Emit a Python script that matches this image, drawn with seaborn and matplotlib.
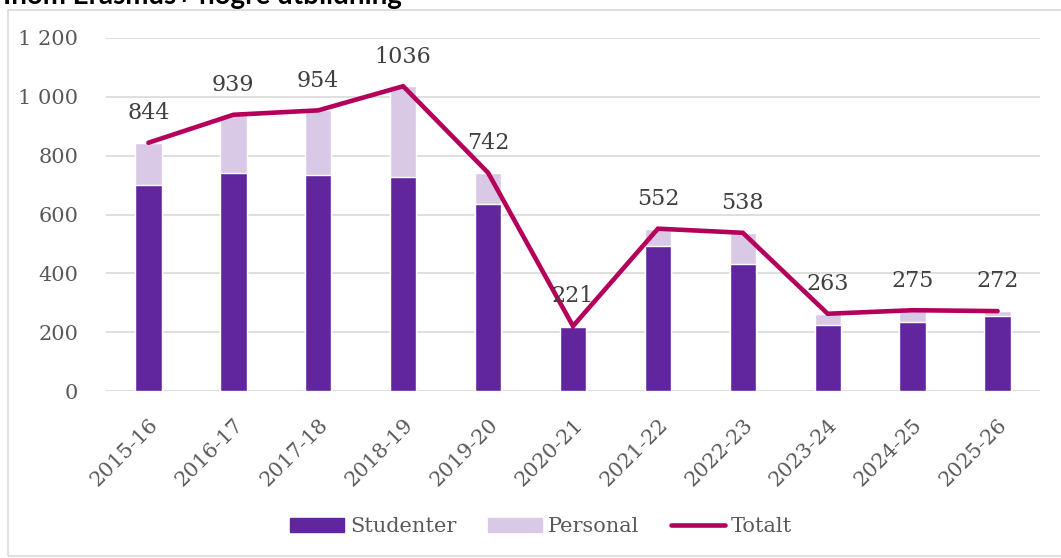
import matplotlib
matplotlib.use("Agg")
import matplotlib.pyplot as plt
import seaborn as sns
import pandas as pd
from matplotlib.patches import Rectangle, Patch
from matplotlib.lines import Line2D
from matplotlib.ticker import FuncFormatter

years = ["2015-16", "2016-17", "2017-18", "2018-19", "2019-20", "2020-21",
         "2021-22", "2022-23", "2023-24", "2024-25", "2025-26"]
studenter = [700, 742, 735, 727, 636, 217, 494, 431, 226, 236, 254]
totalt = [844, 939, 954, 1036, 742, 221, 552, 538, 263, 275, 272]
personal = [t - s for t, s in zip(totalt, studenter)]

c_stud = "#61269E"
c_pers = "#D9C9E6"
c_tot = "#B5005B"
c_text = "#595959"

sns.set_style("white")
plt.rcParams["font.family"] = ["DejaVu Serif"]

df = pd.DataFrame({"year": years, "studenter": studenter,
                   "personal": personal, "totalt": totalt})

fig = plt.figure(figsize=(10.61, 5.58), dpi=100)
ax = fig.add_axes([0.0999, 0.299, 0.8803, 0.633])

# stacked bars: totals (light) behind, students in front
sns.barplot(data=df, x="year", y="totalt", color=c_pers, width=0.31,
            saturation=1, ax=ax, zorder=2)
sns.barplot(data=df, x="year", y="studenter", color=c_stud, width=0.31,
            saturation=1, ax=ax, zorder=3)
ax.plot(range(len(years)), totalt, color=c_tot, lw=3.3,
        solid_capstyle="round", solid_joinstyle="miter", zorder=4)

for i, v in enumerate(totalt):
    ax.annotate(str(v), (i, v), xytext=(0, 17), textcoords="offset points",
                ha="center", va="baseline", fontsize=16, color="#404040",
                zorder=5)

ax.set_ylim(0, 1200)
ax.set_xlim(-0.5, len(years) - 0.5)
ax.set_yticks(range(0, 1201, 200))
ax.yaxis.set_major_formatter(FuncFormatter(lambda v, p: f"{int(v):,}".replace(",", " ")))
ax.grid(axis="y", color="#D9D9D9", lw=1.2, zorder=0)
ax.set_axisbelow(True)
for s in ax.spines.values():
    s.set_visible(False)
ax.set_xlabel("")
ax.set_ylabel("")
ax.tick_params(axis="both", length=0, labelsize=15, colors=c_text)
ax.tick_params(axis="y", pad=20)
plt.setp(ax.get_xticklabels(), rotation=45, ha="right", rotation_mode="anchor")
ax.tick_params(axis="x", pad=17)

handles = [Patch(color=c_stud, label="Studenter"),
           Patch(color=c_pers, label="Personal"),
           Line2D([], [], color=c_tot, lw=3.3, solid_capstyle="round",
                  label="Totalt")]
leg = fig.legend(handles=handles, loc="center", bbox_to_anchor=(0.51, 0.056),
                 ncol=3, frameon=False, fontsize=15, handlelength=2.6,
                 handleheight=0.6, handletextpad=0.3, columnspacing=1.5)
for t in leg.get_texts():
    t.set_color(c_text)

# outer chart frame
fig.patches.append(Rectangle((8 / 1061, 0.004), 1.2, (558 - 10) / 558 - 0.004,
                             transform=fig.transFigure, fill=False,
                             edgecolor="#D9D9D9", lw=1.2))

fig.text(0.003, (558 - 4) / 558, "Inom Erasmus+ högre utbildning",
         fontsize=20, fontweight="bold", family="Lato", va="baseline",
         ha="left", color="black")

fig.savefig("out.png", dpi=100)
